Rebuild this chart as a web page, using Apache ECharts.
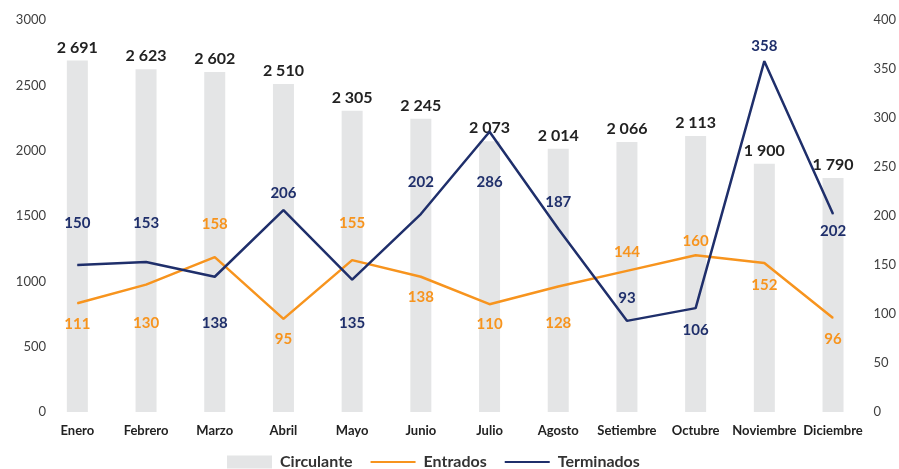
<!DOCTYPE html>
<html>
<head>
<meta charset="utf-8">
<script src="https://cdn.jsdelivr.net/npm/echarts@6/dist/echarts.min.js"></script>
<style>
  html, body { margin: 0; padding: 0; background: #fff; }
  #main { width: 899px; height: 469px; }
</style>
</head>
<body>
<div id="main"></div>
<script>
const meses = ['Enero', 'Febrero', 'Marzo', 'Abril', 'Mayo', 'Junio', 'Julio', 'Agosto', 'Setiembre', 'Octubre', 'Noviembre', 'Diciembre']
const circulante = [2691, 2623, 2602, 2510, 2305, 2245, 2073, 2014, 2066, 2113, 1900, 1790]
const entrados = [111, 130, 158, 95, 155, 138, 110, 128, 144, 160, 152, 96]
const terminados = [150, 153, 138, 206, 135, 202, 286, 187, 93, 106, 358, 202]

// vertical shift of each data label from its point (Excel-style manual placement)
const entradosShift = [21, 39, -33, 21, -36, 21, 20, 37, -18, -14, 23, 22]
const terminadosShift = [-41, -38, 47, -16, 44, -31, 51, -26, -22, 23, -15, 18]

const fmt = (v) => String(v).replace(/\B(?=(\d{3})+(?!\d))/g, ' ')

const withLabels = (values, shifts) =>
  values.map((v, i) => ({
    value: v,
    label: { offset: [0, shifts[i]] }
  }))

const chart = echarts.init(document.getElementById('main'))

const lineLabel = (color) => ({
  show: true,
  position: 'top',
  distance: 0,
  verticalAlign: 'middle',
  color: color,
  fontSize: 15,
  fontWeight: 'bold',
  fontFamily: 'Lato'
})

const option = {
  textStyle: { fontFamily: 'Lato' },
  animation: false,
  grid: { left: 43, right: 29, top: 20, bottom: 57 },
  legend: {
    left: 227,
    top: 454,
    padding: 0,
    itemWidth: 45,
    itemHeight: 13,
    itemGap: 17,
    textStyle: { fontSize: 16, fontWeight: 'bold', color: '#333', padding: [0, 0, 0, 3] },
    data: [
      { name: 'Circulante', icon: 'rect' },
      { name: 'Entrados', itemStyle: { opacity: 0 } },
      { name: 'Terminados', itemStyle: { opacity: 0 } }
    ]
  },
  xAxis: {
    type: 'category',
    data: meses,
    axisLine: { show: false },
    axisTick: { show: false },
    axisLabel: { interval: 0, margin: 12, fontSize: 13, fontWeight: 'bold', color: '#222' }
  },
  yAxis: [
    {
      type: 'value',
      min: 0,
      max: 3000,
      interval: 500,
      splitLine: { show: false },
      axisLabel: { margin: -3, fontSize: 13, color: '#404040', formatter: (v) => String(v) }
    },
    {
      type: 'value',
      min: 0,
      max: 400,
      interval: 50,
      splitLine: { show: false },
      axisLabel: { margin: 6, fontSize: 13, color: '#404040' }
    }
  ],
  series: [
    {
      name: 'Circulante',
      type: 'bar',
      barWidth: 21,
      itemStyle: { color: '#e4e5e6' },
      label: {
        show: true,
        position: 'top',
        distance: 5,
        fontSize: 16,
        fontWeight: 'bold',
        color: '#222',
        formatter: (p) => fmt(p.value)
      },
      data: circulante
    },
    {
      name: 'Entrados',
      type: 'line',
      yAxisIndex: 1,
      symbol: 'circle',
      symbolSize: 1,
      itemStyle: { color: '#f7941e' },
      lineStyle: { width: 2.5, color: '#f7941e' },
      label: lineLabel('#f7941e'),
      data: withLabels(entrados, entradosShift)
    },
    {
      name: 'Terminados',
      type: 'line',
      yAxisIndex: 1,
      symbol: 'circle',
      symbolSize: 1,
      itemStyle: { color: '#1f2f6b' },
      lineStyle: { width: 2.5, color: '#1f2f6b' },
      label: lineLabel('#1f2f6b'),
      data: withLabels(terminados, terminadosShift)
    }
  ]
}

chart.setOption(option)
</script>
</body>
</html>
